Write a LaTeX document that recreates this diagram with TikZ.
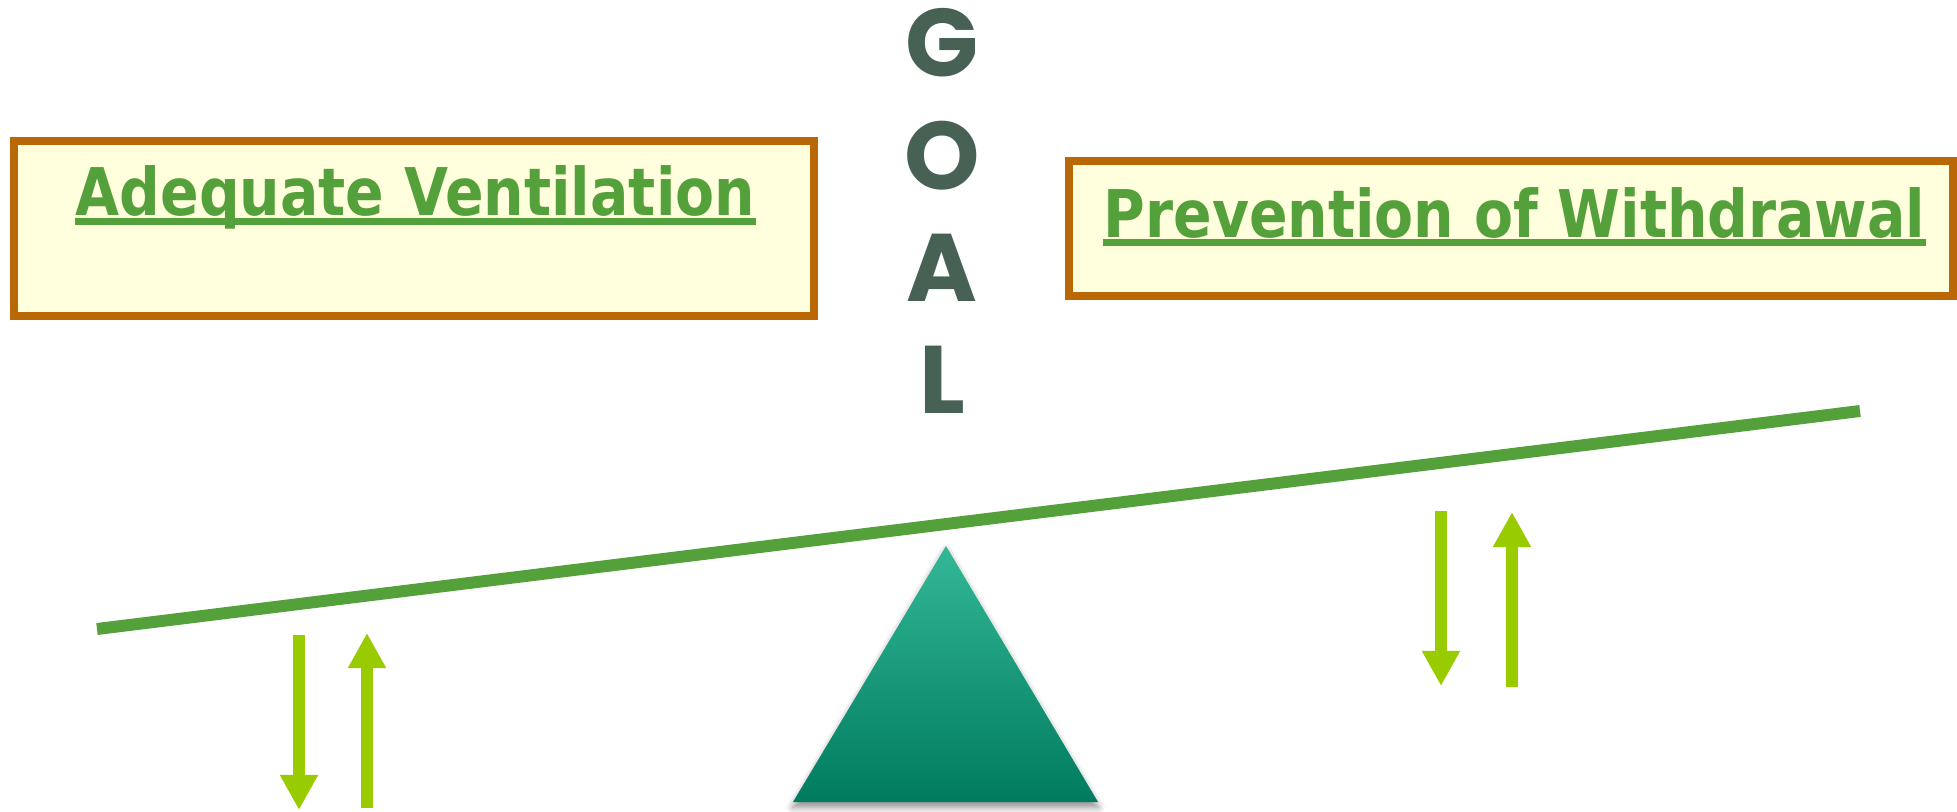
\documentclass[tikz,border=0pt]{standalone}
\usepackage{fontspec}
\usetikzlibrary{arrows.meta,shadows.blur}
\newfontfamily\boxfont{DejaVu Sans}[FakeStretch=0.865]
\newfontfamily\goalfont{Poppins}
\definecolor{bxgreen}{HTML}{54A03A}
\definecolor{bxorange}{HTML}{BA6806}
\definecolor{bxfill}{HTML}{FFFFDD}
\definecolor{goalgray}{HTML}{476254}
\definecolor{liftlime}{HTML}{99CC00}
\definecolor{tealtop}{HTML}{33B896}
\definecolor{tealbot}{HTML}{007B5E}

\begin{document}
\begin{tikzpicture}[x=0.01cm, y=-0.01cm,
    goalbox/.style={draw=bxorange, line width=2.3pt, fill=bxfill, inner sep=0pt},
    boxlabel/.style={text=bxgreen, font=\boxfont\bfseries\fontsize{18.7}{20}\selectfont, inner sep=0pt, anchor=base west},
    underl/.style={draw=bxgreen, line width=1.9pt},
    goalletter/.style={text=goalgray, font=\goalfont\bfseries\fontsize{27.3}{30}\selectfont, inner sep=0pt, anchor=base},
    beam/.style={draw=bxgreen, line width=3.4pt},
    liftarrow/.style={draw=liftlime, line width=3.4pt, -{Triangle[width=10.2pt,length=10pt]}}]
  \useasboundingbox (0,0) rectangle (1957,812);

  % the two boxes
  \node[goalbox, minimum width=8cm, minimum height=1.75cm] (ventbox) at (414,228.5) {};
  \node[goalbox, minimum width=8.84cm, minimum height=1.35cm] (prevbox) at (1511,228.5) {};
  \node[boxlabel] (venttext) at (75,215) {Adequate Ventilation};
  \node[boxlabel] (prevtext) at (1103,237) {Prevention of Withdrawal};
  \draw[underl] ([yshift=-1.9pt]venttext.base west) -- ([yshift=-1.9pt]venttext.base east);
  \draw[underl] ([yshift=-1.6pt]prevtext.base west) -- ([yshift=-1.6pt]prevtext.base east);

  % GOAL written downwards
  \foreach \ch [count=\i from 0] in {G,O,A,L}
    \node[goalletter] (goal\i) at (942,{77+112.3*\i}) {\ch};

  % seesaw
  \coordinate (beamL) at (97,629);
  \coordinate (beamR) at (1860,411);
  \draw[beam] (beamL) -- (beamR);

  \coordinate (apex) at (946,546);
  \coordinate (baseR) at (1098,802);
  \coordinate (baseL) at (793,802);
  \path[blur shadow={shadow xshift=0pt, shadow yshift=-1.5pt, shadow blur radius=2pt, shadow opacity=45},
        top color=tealtop, bottom color=tealbot] (apex) -- (baseR) -- (baseL) -- cycle;

  % up and down arrows
  \foreach \x/\a/\b in {299/635/810, 367/808/633, 1441/511/686, 1512/687/512}
    \draw[liftarrow] (\x,\a) -- (\x,\b);
\end{tikzpicture}
\end{document}
